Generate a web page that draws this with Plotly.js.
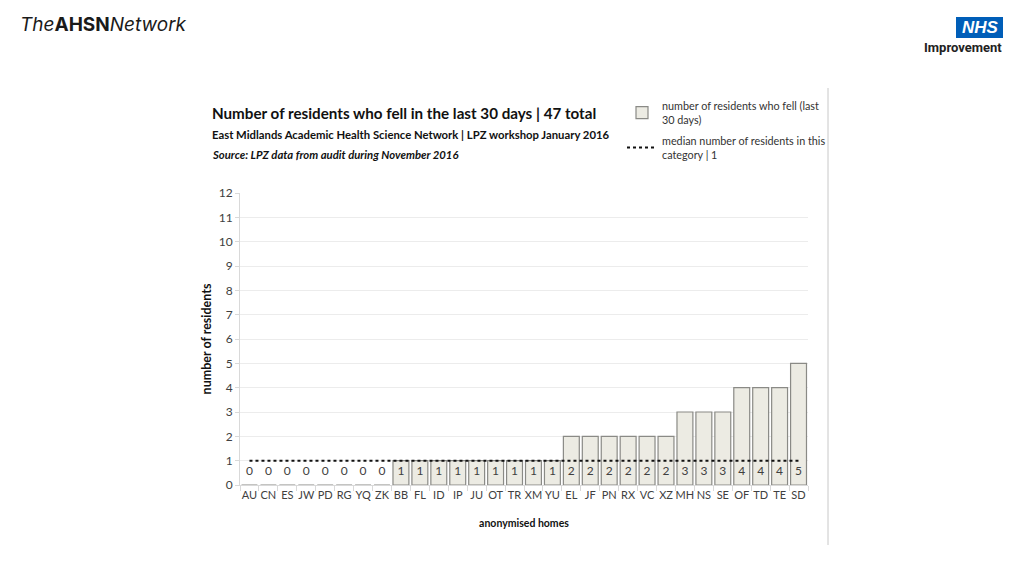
<!DOCTYPE html>
<html><head><meta charset="utf-8">
<script src="https://cdn.plot.ly/plotly-3.0.1.min.js"></script>
<style>html,body{margin:0;padding:0;background:#fff;}#chart{width:1024px;height:576px;}</style>
</head><body><div id="chart"></div>
<script>
const homes = ["AU","CN","ES","JW","PD","RG","YQ","ZK","BB","FL","ID","IP","JU","OT","TR","XM","YU","EL","JF","PN","RX","VC","XZ","MH","NS","SE","OF","TD","TE","SD"];
const falls = [0,0,0,0,0,0,0,0,1,1,1,1,1,1,1,1,1,2,2,2,2,2,2,3,3,3,4,4,4,5];
const medianValue = 1;
const yTicks = [0,1,2,3,4,5,6,7,8,9,10,11,12];

const L=240, R=808, T=193, B=485;
const W=1024, H=576;
const px = x => (x-L)/(R-L);
const py = y => (B-y)/(B-T);
const font = "Lato, sans-serif";

const traces = [
  {type:'bar', x:homes, y:falls, name:'number of residents who fell (last<br>30 days)', legendgroup:'a',
   marker:{color:'#ecebe3', line:{color:'#8a8a86', width:1.2}}, width:0.84, hoverinfo:'none'},
  {type:'scatter', mode:'lines', x:homes, y:homes.map(()=>medianValue), legendgroup:'b',
   name:'median number of residents in this<br>category | 1',
   line:{color:'#111', width:2, dash:'dot'}},
  {type:'scatter', mode:'text', x:homes, y:homes.map(()=>0.55), text:falls.map(String),
   textfont:{family:font, size:12, color:'#404040'}, showlegend:false, hoverinfo:'none'}
];

const layout = {
  width:W, height:H, margin:{l:L, r:W-R, t:T, b:H-B},
  paper_bgcolor:'#fff', plot_bgcolor:'#fff',
  font:{family:font, color:'#333'},
  xaxis:{type:'category', range:[-0.5, homes.length-0.5], showgrid:false, showline:true, linecolor:'#d9d9d9', ticks:'outside',
    tickcolor:'#d9d9d9', ticklen:5, tickson:'boundaries', tickangle:0,
    tickfont:{size:11, color:'#404040', family:font},
    title:{text:'<b>anonymised homes</b>', font:{size:10.5, color:'#111', family:font}, standoff:19}},
  yaxis:{range:[0,12], tickvals:yTicks, showgrid:true, gridcolor:'#ececec', showline:true, linecolor:'#d9d9d9',
    ticks:'outside', tickcolor:'#d9d9d9', ticklen:4, zeroline:false,
    tickfont:{size:12, color:'#404040', family:font},
    title:{text:'<b>number of residents</b>', font:{size:12.5, color:'#111', family:font}, standoff:4}},
  legend:{x:px(622), y:py(92), xanchor:'left', yanchor:'top', bgcolor:'rgba(0,0,0,0)',
    font:{size:10.8, color:'#333', family:font}, tracegroupgap:4, itemwidth:30},
  shapes:[
    {type:'line', xref:'paper', yref:'paper', x0:px(828), x1:px(828), y0:py(88), y1:py(545),
     line:{color:'#c8c8c8', width:1}},
    {type:'rect', xref:'paper', yref:'paper', x0:px(956), x1:px(1003), y0:py(17), y1:py(38),
     fillcolor:'#005EB8', line:{width:0}}
  ],
  annotations:[
    {xref:'paper', yref:'paper', x:px(210), y:py(113), xanchor:'left', yanchor:'middle', showarrow:false,
     text:'<b>Number of residents who fell in the last 30 days | 47 total</b>', font:{size:15.2, color:'#111', family:font}},
    {xref:'paper', yref:'paper', x:px(210), y:py(134), xanchor:'left', yanchor:'middle', showarrow:false,
     text:'<b>East Midlands Academic Health Science Network | LPZ workshop January 2016</b>', font:{size:11.3, color:'#111', family:font}},
    {xref:'paper', yref:'paper', x:px(210), y:py(154), xanchor:'left', yanchor:'middle', showarrow:false,
     text:'<b><i>Source: LPZ data from audit during November 2016</i></b>', font:{size:11.3, color:'#111', family:font}},
    {xref:'paper', yref:'paper', x:px(18), y:py(25), xanchor:'left', yanchor:'middle', showarrow:false,
     text:'<i>The</i><b>AHSN</b><i>Network</i>', font:{size:19, color:'#1a1a1a', family:'Inter, Roboto, sans-serif'}},
    {xref:'paper', yref:'paper', x:px(980), y:py(27.5), xanchor:'center', yanchor:'middle', showarrow:false,
     text:'<b><i>NHS</i></b>', font:{size:17, color:'#fff', family:'Liberation Sans, Arial, sans-serif'}},
    {xref:'paper', yref:'paper', x:px(1004), y:py(47), xanchor:'right', yanchor:'middle', showarrow:false,
     text:'<b>Improvement</b>', font:{size:13, color:'#222', family:'Roboto, sans-serif'}}
  ]
};
Plotly.newPlot('chart', traces, layout, {displayModeBar:false, staticPlot:true});
</script></body></html>
